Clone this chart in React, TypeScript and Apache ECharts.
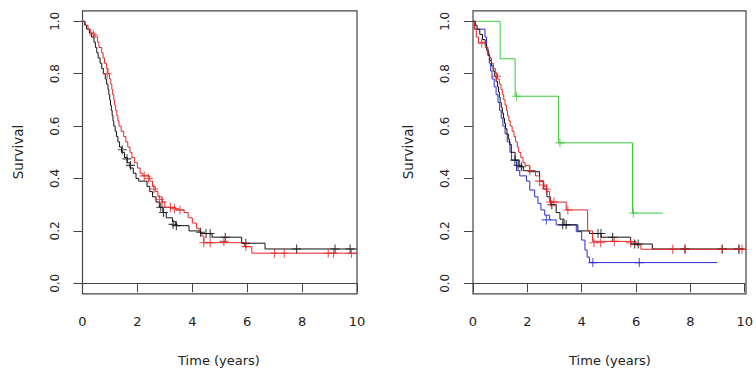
import React, { useEffect, useRef } from "react";
import * as echarts from "echarts";

// ---- Data (time in years, survival probability) ----
const xTicks = [0, 2, 4, 6, 8, 10];
const yTicks = [0, 0.2, 0.4, 0.6, 0.8, 1.0];

// Left panel
const leftBlack: number[][] = [
  [0, 1], [0.08, 0.985], [0.15, 0.97], [0.25, 0.955], [0.33, 0.94], [0.42, 0.92], [0.47, 0.9],
  [0.52, 0.88], [0.57, 0.86], [0.64, 0.84], [0.7, 0.82], [0.76, 0.8], [0.83, 0.78], [0.88, 0.76],
  [0.93, 0.74], [0.96, 0.72], [0.99, 0.7], [1.02, 0.68], [1.05, 0.66], [1.08, 0.64], [1.11, 0.62],
  [1.14, 0.6], [1.19, 0.58], [1.24, 0.56], [1.29, 0.54], [1.35, 0.52], [1.42, 0.5], [1.53, 0.48],
  [1.63, 0.46], [1.73, 0.44], [1.85, 0.42], [1.95, 0.4], [2.05, 0.39], [2.35, 0.37], [2.45, 0.35],
  [2.55, 0.33], [2.68, 0.31], [2.8, 0.29], [2.93, 0.27], [3.05, 0.25], [3.28, 0.235], [3.4, 0.22],
  [3.88, 0.2], [4.3, 0.19], [4.72, 0.176], [5.8, 0.153], [6.65, 0.131], [10, 0.131],
];
const leftBlackCens: number[][] = [
  [1.45, 0.51], [1.62, 0.475], [1.75, 0.45], [2.85, 0.29], [2.95, 0.27], [3.3, 0.225], [3.42, 0.22],
  [4.3, 0.195], [4.5, 0.19], [4.65, 0.19], [5.2, 0.176], [5.95, 0.153], [7.8, 0.131], [9.2, 0.131], [9.75, 0.131],
];
const leftRed: number[][] = [
  [0, 1], [0.1, 0.985], [0.2, 0.97], [0.3, 0.955], [0.45, 0.94], [0.55, 0.92], [0.6, 0.9],
  [0.7, 0.88], [0.75, 0.86], [0.8, 0.84], [0.87, 0.82], [0.93, 0.8], [0.98, 0.78], [1.03, 0.76],
  [1.07, 0.74], [1.1, 0.72], [1.14, 0.7], [1.17, 0.68], [1.21, 0.66], [1.25, 0.64], [1.29, 0.62],
  [1.33, 0.6], [1.41, 0.58], [1.5, 0.56], [1.58, 0.54], [1.65, 0.52], [1.73, 0.5], [1.8, 0.48],
  [1.9, 0.46], [2.0, 0.44], [2.1, 0.42], [2.2, 0.41], [2.45, 0.39], [2.55, 0.37], [2.65, 0.35],
  [2.75, 0.33], [2.9, 0.31], [3.0, 0.29], [3.4, 0.28], [3.7, 0.27], [3.85, 0.25], [4.0, 0.23],
  [4.15, 0.21], [4.25, 0.195], [4.35, 0.18], [4.42, 0.155], [5.9, 0.14], [6.17, 0.115], [10, 0.115],
];
const leftRedCens: number[][] = [
  [0.4, 0.948], [0.9, 0.8], [2.25, 0.41], [2.4, 0.4], [2.6, 0.36], [2.8, 0.32], [2.9, 0.31],
  [3.2, 0.29], [3.35, 0.285], [3.55, 0.28], [4.42, 0.155], [4.65, 0.155], [5.15, 0.16], [5.95, 0.14],
  [7.0, 0.115], [7.35, 0.115], [8.95, 0.115], [9.15, 0.115], [9.8, 0.115],
];

// Right panel
const rightBlack: number[][] = [
  [0, 1], [0.08, 0.985], [0.15, 0.97], [0.25, 0.95], [0.35, 0.93], [0.45, 0.91], [0.5, 0.89],
  [0.56, 0.87], [0.62, 0.85], [0.68, 0.83], [0.74, 0.81], [0.8, 0.79], [0.85, 0.77], [0.9, 0.75],
  [0.94, 0.73], [0.97, 0.71], [1.0, 0.69], [1.04, 0.67], [1.08, 0.65], [1.12, 0.63], [1.16, 0.61],
  [1.2, 0.59], [1.25, 0.57], [1.3, 0.55], [1.35, 0.53], [1.41, 0.5], [1.55, 0.47], [1.7, 0.445],
  [1.85, 0.43], [2.03, 0.426], [2.45, 0.39], [2.6, 0.36], [2.72, 0.33], [2.85, 0.3], [3.06, 0.27],
  [3.2, 0.245], [3.35, 0.223], [3.86, 0.2], [4.29, 0.19], [4.71, 0.176], [5.8, 0.15], [6.6, 0.131], [10, 0.131],
];
const rightBlackCens: number[][] = [
  [1.54, 0.47], [1.66, 0.45], [1.78, 0.445], [2.9, 0.3], [3.3, 0.223], [3.43, 0.223], [4.6, 0.19],
  [4.71, 0.19], [5.14, 0.176], [5.95, 0.15], [6.08, 0.15], [7.8, 0.131], [9.17, 0.131], [9.78, 0.131],
];
const rightRed: number[][] = [
  [0, 1], [0.05, 0.97], [0.12, 0.94], [0.2, 0.92], [0.45, 0.9], [0.52, 0.88], [0.6, 0.86],
  [0.68, 0.84], [0.75, 0.82], [0.82, 0.8], [0.9, 0.78], [0.97, 0.76], [1.03, 0.74], [1.08, 0.72],
  [1.13, 0.7], [1.18, 0.68], [1.23, 0.66], [1.27, 0.64], [1.32, 0.62], [1.37, 0.6], [1.44, 0.58],
  [1.51, 0.56], [1.57, 0.54], [1.63, 0.52], [1.68, 0.5], [1.76, 0.48], [1.84, 0.46], [1.92, 0.45],
  [2.09, 0.43], [2.3, 0.41], [2.45, 0.39], [2.6, 0.37], [2.72, 0.35], [2.82, 0.31], [3.43, 0.28],
  [4.22, 0.2], [4.4, 0.16], [6.0, 0.146], [6.18, 0.13], [10, 0.13],
];
const rightRedCens: number[][] = [
  [0.32, 0.916], [0.87, 0.79], [2.09, 0.43], [2.45, 0.39], [2.58, 0.375], [2.7, 0.36], [2.85, 0.31],
  [2.98, 0.31], [3.49, 0.28], [4.45, 0.155], [4.7, 0.155], [5.2, 0.16], [5.8, 0.155], [7.35, 0.13],
  [7.8, 0.13], [9.17, 0.13], [9.8, 0.13], [9.9, 0.13],
];
const rightGreen: number[][] = [
  [0, 1], [1.0, 0.857], [1.55, 0.714], [3.15, 0.536], [5.87, 0.268], [6.98, 0.268],
];
const rightGreenCens: number[][] = [[1.6, 0.714], [3.2, 0.536], [5.9, 0.268]];
const rightBlue: number[][] = [
  [0, 1], [0.07, 0.97], [0.44, 0.94], [0.5, 0.9], [0.55, 0.87], [0.6, 0.84], [0.65, 0.81],
  [0.7, 0.78], [0.78, 0.75], [0.85, 0.72], [0.92, 0.69], [0.98, 0.66], [1.04, 0.63], [1.1, 0.6],
  [1.18, 0.57], [1.26, 0.54], [1.36, 0.5], [1.42, 0.47], [1.6, 0.43], [1.72, 0.41], [1.97, 0.39],
  [2.09, 0.356], [2.27, 0.33], [2.39, 0.305], [2.5, 0.28], [2.64, 0.26], [2.82, 0.242], [3.06, 0.223],
  [3.8, 0.197], [4.0, 0.165], [4.12, 0.127], [4.2, 0.1], [4.29, 0.079], [8.99, 0.079],
];
const rightBlueCens: number[][] = [[2.7, 0.242], [4.41, 0.079], [6.12, 0.079]];

const BLACK = "#111111";
const RED = "#e52525";
const GREEN = "#3cc83c";
const BLUE = "#2b2bd0";
const AXIS = "#444444";
const FONT = "DejaVu Sans";

const PLUS =
  "path://M-1,-0.12 L-0.12,-0.12 L-0.12,-1 L0.12,-1 L0.12,-0.12 L1,-0.12 L1,0.12 L0.12,0.12 L0.12,1 L-0.12,1 L-0.12,0.12 L-1,0.12 Z";

// ---- Layout ----
const panels = [
  { left: 82.5, width: 274.5, labelX: 219 },
  { left: 473, width: 273, labelX: 610 },
];
const GRID_TOP = 21.3;
const GRID_H = 262;
const PAD = 10.5;

function lineSeries(data: number[][], color: string, idx: number) {
  return {
    type: "line",
    data,
    step: "end",
    xAxisIndex: idx,
    yAxisIndex: idx,
    showSymbol: false,
    symbol: "none",
    clip: false,
    lineStyle: { color, width: 1 },
    z: 3,
  };
}
function censSeries(data: number[][], color: string, idx: number) {
  return {
    type: "scatter",
    data,
    xAxisIndex: idx,
    yAxisIndex: idx,
    symbol: PLUS,
    symbolSize: 9,
    clip: false,
    itemStyle: { color },
    z: 4,
  };
}

export default function App() {
  const ref = useRef<HTMLDivElement>(null);
  useEffect(() => {
    if (!ref.current) return;
    const chart = echarts.init(ref.current, null, { renderer: "svg" });
    const grids = panels.map((p) => ({
      left: p.left,
      top: GRID_TOP,
      width: p.width,
      height: GRID_H,
      containLabel: false,
    }));
    const xAxes = panels.map((_, i) => ({
      type: "value",
      gridIndex: i,
      min: 0,
      max: 10,
      interval: 2,
      offset: PAD,
      axisLine: { show: true, lineStyle: { color: AXIS, width: 1 } },
      axisTick: { show: true, length: 9, inside: false, lineStyle: { color: AXIS } },
      axisLabel: {
        show: true,
        margin: 21,
        color: "#222",
        fontFamily: FONT,
        fontSize: 13,
        formatter: (v: number) => (xTicks.includes(v) ? String(v) : ""),
      },
      splitLine: { show: false },
    }));
    const yAxes = panels.map((_, i) => ({
      type: "value",
      gridIndex: i,
      min: 0,
      max: 1,
      interval: 0.2,
      axisLine: { show: false },
      axisTick: { show: true, length: 9, lineStyle: { color: AXIS } },
      axisLabel: {
        show: true,
        rotate: 90,
        margin: 22,
        color: "#222",
        fontFamily: FONT,
        fontSize: 12,
        formatter: (v: number) => {
          const t = yTicks.find((y) => Math.abs(y - v) < 1e-6);
          return t === undefined ? "" : t.toFixed(1);
        },
      },
      splitLine: { show: false },
    }));
    const graphics: any[] = [];
    panels.forEach((p) => {
      graphics.push({
        type: "rect",
        shape: { x: p.left, y: GRID_TOP - PAD, width: p.width, height: GRID_H + 2 * PAD },
        style: { fill: "none", stroke: AXIS, lineWidth: 1.2 },
        z: 10,
        silent: true,
      });
      graphics.push({
        type: "text",
        x: p.labelX,
        y: 360,
        style: {
          text: "Time (years)",
          font: `13px "${FONT}"`,
          fill: "#222",
          textAlign: "center",
          textVerticalAlign: "middle",
        },
      });
      graphics.push({
        type: "text",
        x: p.left - 65,
        y: 152,
        rotation: Math.PI / 2,
        style: {
          text: "Survival",
          font: `13.5px "${FONT}"`,
          fill: "#222",
          textAlign: "center",
          textVerticalAlign: "middle",
        },
      });
    });
    chart.setOption({
      animation: false,
      backgroundColor: "#ffffff",
      grid: grids,
      xAxis: xAxes,
      yAxis: yAxes,
      graphic: graphics,
      series: [
        lineSeries(leftBlack, BLACK, 0),
        lineSeries(leftRed, RED, 0),
        censSeries(leftBlackCens, BLACK, 0),
        censSeries(leftRedCens, RED, 0),
        lineSeries(rightGreen, GREEN, 1),
        lineSeries(rightBlue, BLUE, 1),
        lineSeries(rightBlack, BLACK, 1),
        lineSeries(rightRed, RED, 1),
        censSeries(rightGreenCens, GREEN, 1),
        censSeries(rightBlueCens, BLUE, 1),
        censSeries(rightBlackCens, BLACK, 1),
        censSeries(rightRedCens, RED, 1),
      ],
    });
    return () => chart.dispose();
  }, []);
  return (
    <div
      ref={ref}
      style={{ position: "fixed", left: 0, top: 0, width: 756, height: 373, background: "#fff" }}
    />
  );
}
